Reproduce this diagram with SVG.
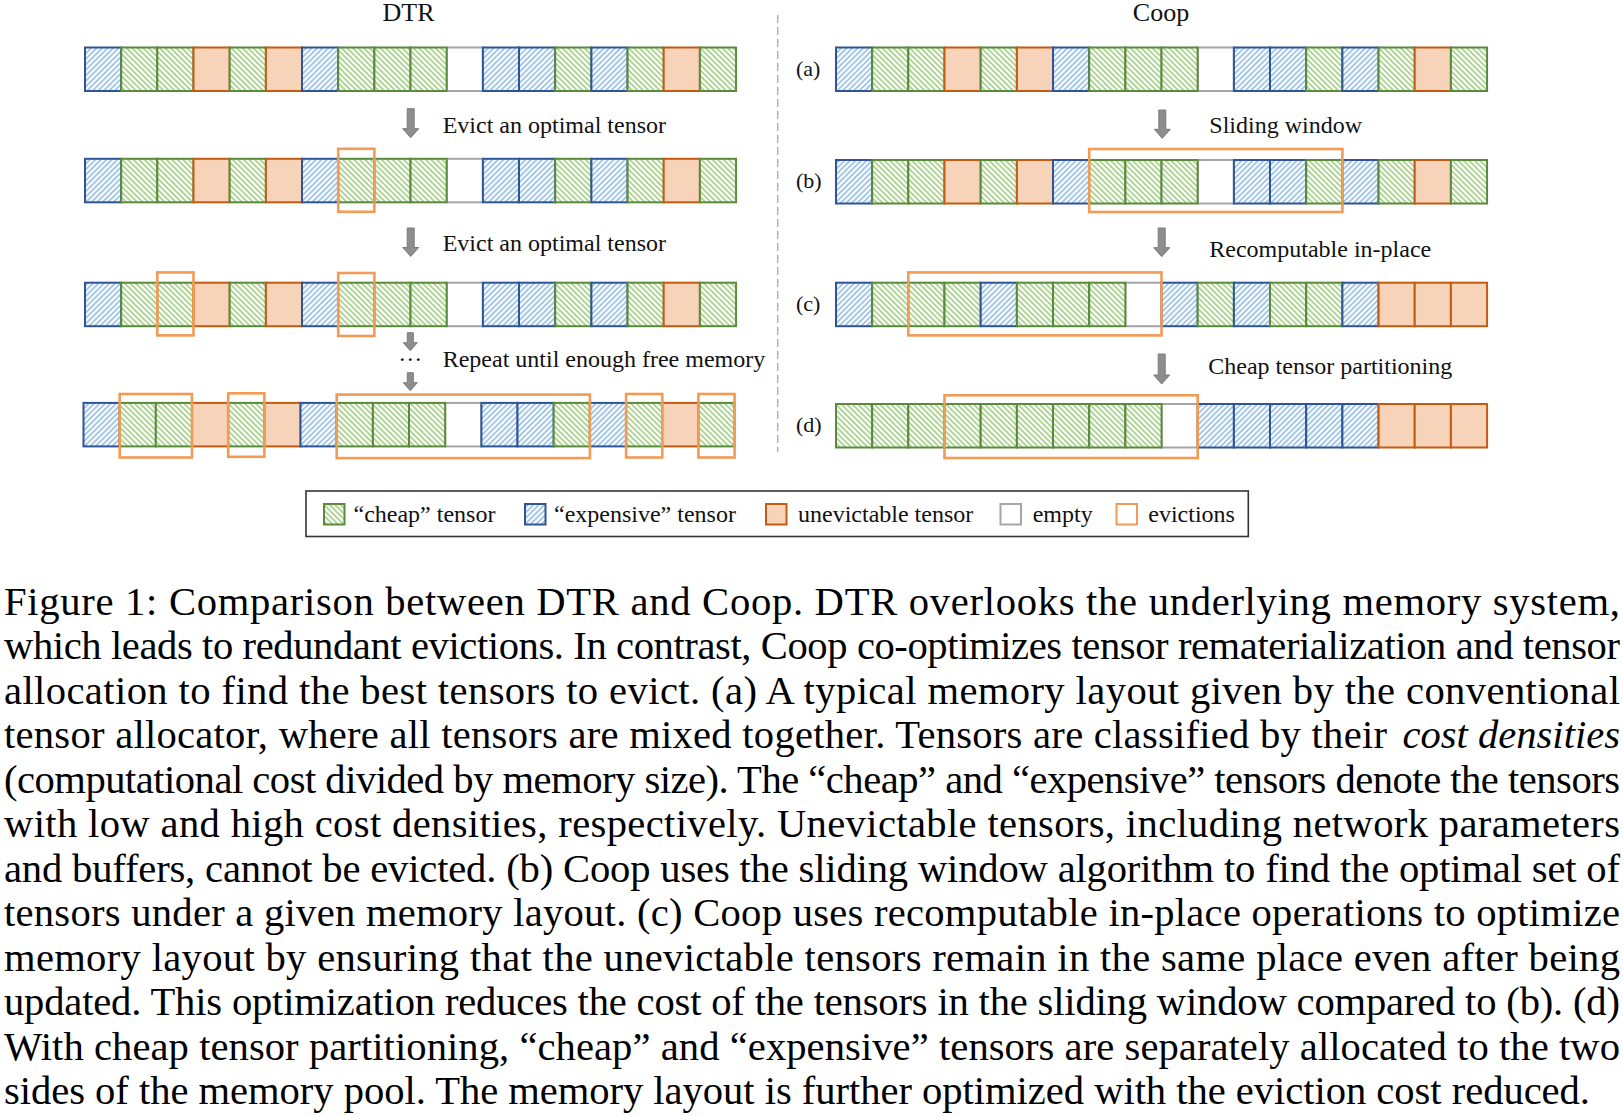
<svg xmlns="http://www.w3.org/2000/svg" width="1623" height="1116" viewBox="0 0 1623 1116">
<style>
.g{fill:url(#hg);stroke:#5b8a3c;stroke-width:2}
.b{fill:url(#hb);stroke:#2f5597;stroke-width:2}
.o{fill:#f7d3b9;stroke:#c55a11;stroke-width:2}
.e{fill:#fff;stroke:#a6a6a6;stroke-width:2}
.ev{fill:none;stroke:#f39a55;stroke-width:2.6}
.lbl{font-family:"Liberation Serif","Times New Roman",serif;font-size:24px;fill:#111}
.ttl{font-family:"Liberation Serif","Times New Roman",serif;font-size:26px;fill:#111;text-anchor:middle}
.tag{font-family:"Liberation Serif","Times New Roman",serif;font-size:22px;fill:#111}
.cap{font-family:"Liberation Serif","Times New Roman",serif;font-size:40.6px;fill:#000}
.arr{fill:#8e8e8e;stroke:#7b7b7b;stroke-width:1}
</style>
<defs>
<pattern id="hg" patternUnits="userSpaceOnUse" width="3.9" height="3.9" patternTransform="rotate(-45)">
<rect width="3.9" height="3.9" fill="#fff"/><rect width="1.8" height="3.9" fill="#a9d18e"/>
</pattern>
<pattern id="hb" patternUnits="userSpaceOnUse" width="3.9" height="3.9" patternTransform="rotate(45)">
<rect width="3.9" height="3.9" fill="#fff"/><rect width="1.8" height="3.9" fill="#9dc3e6"/>
</pattern>
</defs>
<rect width="1623" height="1116" fill="#fff"/>

<text class="ttl" x="408.5" y="20.5">DTR</text>
<text class="ttl" x="1161" y="21">Coop</text>
<line x1="777.7" y1="15" x2="777.7" y2="452" stroke="#b3b3b3" stroke-width="1.5" stroke-dasharray="8 4"/>

<g id="dtr-row1">
<rect class="e" x="446.7" y="47.5" width="36.17" height="43.5"/>
<rect class="b" x="85" y="47.5" width="36.17" height="43.5"/>
<rect class="g" x="121.2" y="47.5" width="36.17" height="43.5"/>
<rect class="g" x="157.3" y="47.5" width="36.17" height="43.5"/>
<rect class="o" x="193.5" y="47.5" width="36.17" height="43.5"/>
<rect class="g" x="229.7" y="47.5" width="36.17" height="43.5"/>
<rect class="o" x="265.9" y="47.5" width="36.17" height="43.5"/>
<rect class="b" x="302" y="47.5" width="36.17" height="43.5"/>
<rect class="g" x="338.2" y="47.5" width="36.17" height="43.5"/>
<rect class="g" x="374.4" y="47.5" width="36.17" height="43.5"/>
<rect class="g" x="410.5" y="47.5" width="36.17" height="43.5"/>
<rect class="b" x="482.9" y="47.5" width="36.17" height="43.5"/>
<rect class="b" x="519" y="47.5" width="36.17" height="43.5"/>
<rect class="g" x="555.2" y="47.5" width="36.17" height="43.5"/>
<rect class="b" x="591.4" y="47.5" width="36.17" height="43.5"/>
<rect class="g" x="627.6" y="47.5" width="36.17" height="43.5"/>
<rect class="o" x="663.7" y="47.5" width="36.17" height="43.5"/>
<rect class="g" x="699.9" y="47.5" width="36.17" height="43.5"/>
</g>

<g id="dtr-row2">
<rect class="e" x="446.7" y="158.8" width="36.17" height="43.5"/>
<rect class="b" x="85" y="158.8" width="36.17" height="43.5"/>
<rect class="g" x="121.2" y="158.8" width="36.17" height="43.5"/>
<rect class="g" x="157.3" y="158.8" width="36.17" height="43.5"/>
<rect class="o" x="193.5" y="158.8" width="36.17" height="43.5"/>
<rect class="g" x="229.7" y="158.8" width="36.17" height="43.5"/>
<rect class="o" x="265.9" y="158.8" width="36.17" height="43.5"/>
<rect class="b" x="302" y="158.8" width="36.17" height="43.5"/>
<rect class="g" x="338.2" y="158.8" width="36.17" height="43.5"/>
<rect class="g" x="374.4" y="158.8" width="36.17" height="43.5"/>
<rect class="g" x="410.5" y="158.8" width="36.17" height="43.5"/>
<rect class="b" x="482.9" y="158.8" width="36.17" height="43.5"/>
<rect class="b" x="519" y="158.8" width="36.17" height="43.5"/>
<rect class="g" x="555.2" y="158.8" width="36.17" height="43.5"/>
<rect class="b" x="591.4" y="158.8" width="36.17" height="43.5"/>
<rect class="g" x="627.6" y="158.8" width="36.17" height="43.5"/>
<rect class="o" x="663.7" y="158.8" width="36.17" height="43.5"/>
<rect class="g" x="699.9" y="158.8" width="36.17" height="43.5"/>
<rect class="ev" x="338.2" y="148.8" width="36.17" height="63"/>
</g>

<g id="dtr-row3">
<rect class="e" x="446.7" y="282.7" width="36.17" height="43.5"/>
<rect class="b" x="85" y="282.7" width="36.17" height="43.5"/>
<rect class="g" x="121.2" y="282.7" width="36.17" height="43.5"/>
<rect class="g" x="157.3" y="282.7" width="36.17" height="43.5"/>
<rect class="o" x="193.5" y="282.7" width="36.17" height="43.5"/>
<rect class="g" x="229.7" y="282.7" width="36.17" height="43.5"/>
<rect class="o" x="265.9" y="282.7" width="36.17" height="43.5"/>
<rect class="b" x="302" y="282.7" width="36.17" height="43.5"/>
<rect class="g" x="338.2" y="282.7" width="36.17" height="43.5"/>
<rect class="g" x="374.4" y="282.7" width="36.17" height="43.5"/>
<rect class="g" x="410.5" y="282.7" width="36.17" height="43.5"/>
<rect class="b" x="482.9" y="282.7" width="36.17" height="43.5"/>
<rect class="b" x="519" y="282.7" width="36.17" height="43.5"/>
<rect class="g" x="555.2" y="282.7" width="36.17" height="43.5"/>
<rect class="b" x="591.4" y="282.7" width="36.17" height="43.5"/>
<rect class="g" x="627.6" y="282.7" width="36.17" height="43.5"/>
<rect class="o" x="663.7" y="282.7" width="36.17" height="43.5"/>
<rect class="g" x="699.9" y="282.7" width="36.17" height="43.5"/>
<rect class="ev" x="157.3" y="272.4" width="36.17" height="63"/>
<rect class="ev" x="338.2" y="273" width="36.17" height="63"/>
</g>

<g id="dtr-row4">
<rect class="e" x="445.2" y="402.9" width="36.17" height="43.5"/>
<rect class="b" x="83.5" y="402.9" width="36.17" height="43.5"/>
<rect class="g" x="119.7" y="402.9" width="36.17" height="43.5"/>
<rect class="g" x="155.8" y="402.9" width="36.17" height="43.5"/>
<rect class="o" x="192" y="402.9" width="36.17" height="43.5"/>
<rect class="g" x="228.2" y="402.9" width="36.17" height="43.5"/>
<rect class="o" x="264.4" y="402.9" width="36.17" height="43.5"/>
<rect class="b" x="300.5" y="402.9" width="36.17" height="43.5"/>
<rect class="g" x="336.7" y="402.9" width="36.17" height="43.5"/>
<rect class="g" x="372.9" y="402.9" width="36.17" height="43.5"/>
<rect class="g" x="409" y="402.9" width="36.17" height="43.5"/>
<rect class="b" x="481.4" y="402.9" width="36.17" height="43.5"/>
<rect class="b" x="517.5" y="402.9" width="36.17" height="43.5"/>
<rect class="g" x="553.7" y="402.9" width="36.17" height="43.5"/>
<rect class="b" x="589.9" y="402.9" width="36.17" height="43.5"/>
<rect class="g" x="626.1" y="402.9" width="36.17" height="43.5"/>
<rect class="o" x="662.2" y="402.9" width="36.17" height="43.5"/>
<rect class="g" x="698.4" y="402.9" width="36.17" height="43.5"/>
<rect class="ev" x="119.7" y="394" width="72.3" height="63.5"/>
<rect class="ev" x="228.2" y="393.3" width="36.17" height="63.5"/>
<rect class="ev" x="336.7" y="394.6" width="253.2" height="63.5"/>
<rect class="ev" x="626.1" y="394" width="36.17" height="63.5"/>
<rect class="ev" x="698.4" y="394" width="36.17" height="63.5"/>
</g>

<g id="coop-a">
<rect class="e" x="1197.7" y="47.5" width="36.17" height="43.5"/>
<rect class="b" x="836" y="47.5" width="36.17" height="43.5"/>
<rect class="g" x="872.2" y="47.5" width="36.17" height="43.5"/>
<rect class="g" x="908.3" y="47.5" width="36.17" height="43.5"/>
<rect class="o" x="944.5" y="47.5" width="36.17" height="43.5"/>
<rect class="g" x="980.7" y="47.5" width="36.17" height="43.5"/>
<rect class="o" x="1016.9" y="47.5" width="36.17" height="43.5"/>
<rect class="b" x="1053" y="47.5" width="36.17" height="43.5"/>
<rect class="g" x="1089.2" y="47.5" width="36.17" height="43.5"/>
<rect class="g" x="1125.4" y="47.5" width="36.17" height="43.5"/>
<rect class="g" x="1161.5" y="47.5" width="36.17" height="43.5"/>
<rect class="b" x="1233.9" y="47.5" width="36.17" height="43.5"/>
<rect class="b" x="1270" y="47.5" width="36.17" height="43.5"/>
<rect class="g" x="1306.2" y="47.5" width="36.17" height="43.5"/>
<rect class="b" x="1342.4" y="47.5" width="36.17" height="43.5"/>
<rect class="g" x="1378.6" y="47.5" width="36.17" height="43.5"/>
<rect class="o" x="1414.7" y="47.5" width="36.17" height="43.5"/>
<rect class="g" x="1450.9" y="47.5" width="36.17" height="43.5"/>
<text class="tag" x="796" y="75.5">(a)</text>
</g>

<g id="coop-b">
<rect class="e" x="1197.7" y="160" width="36.17" height="43.5"/>
<rect class="b" x="836" y="160" width="36.17" height="43.5"/>
<rect class="g" x="872.2" y="160" width="36.17" height="43.5"/>
<rect class="g" x="908.3" y="160" width="36.17" height="43.5"/>
<rect class="o" x="944.5" y="160" width="36.17" height="43.5"/>
<rect class="g" x="980.7" y="160" width="36.17" height="43.5"/>
<rect class="o" x="1016.9" y="160" width="36.17" height="43.5"/>
<rect class="b" x="1053" y="160" width="36.17" height="43.5"/>
<rect class="g" x="1089.2" y="160" width="36.17" height="43.5"/>
<rect class="g" x="1125.4" y="160" width="36.17" height="43.5"/>
<rect class="g" x="1161.5" y="160" width="36.17" height="43.5"/>
<rect class="b" x="1233.9" y="160" width="36.17" height="43.5"/>
<rect class="b" x="1270" y="160" width="36.17" height="43.5"/>
<rect class="g" x="1306.2" y="160" width="36.17" height="43.5"/>
<rect class="b" x="1342.4" y="160" width="36.17" height="43.5"/>
<rect class="g" x="1378.6" y="160" width="36.17" height="43.5"/>
<rect class="o" x="1414.7" y="160" width="36.17" height="43.5"/>
<rect class="g" x="1450.9" y="160" width="36.17" height="43.5"/>
<rect class="ev" x="1089.2" y="149" width="253.2" height="63"/>
<text class="tag" x="796" y="188">(b)</text>
</g>

<g id="coop-c">
<rect class="e" x="1125.4" y="282.7" width="36.17" height="43.5"/>
<rect class="b" x="836" y="282.7" width="36.17" height="43.5"/>
<rect class="g" x="872.2" y="282.7" width="36.17" height="43.5"/>
<rect class="g" x="908.3" y="282.7" width="36.17" height="43.5"/>
<rect class="g" x="944.5" y="282.7" width="36.17" height="43.5"/>
<rect class="b" x="980.7" y="282.7" width="36.17" height="43.5"/>
<rect class="g" x="1016.9" y="282.7" width="36.17" height="43.5"/>
<rect class="g" x="1053" y="282.7" width="36.17" height="43.5"/>
<rect class="g" x="1089.2" y="282.7" width="36.17" height="43.5"/>
<rect class="b" x="1161.5" y="282.7" width="36.17" height="43.5"/>
<rect class="g" x="1197.7" y="282.7" width="36.17" height="43.5"/>
<rect class="b" x="1233.9" y="282.7" width="36.17" height="43.5"/>
<rect class="g" x="1270" y="282.7" width="36.17" height="43.5"/>
<rect class="g" x="1306.2" y="282.7" width="36.17" height="43.5"/>
<rect class="b" x="1342.4" y="282.7" width="36.17" height="43.5"/>
<rect class="o" x="1378.6" y="282.7" width="36.17" height="43.5"/>
<rect class="o" x="1414.7" y="282.7" width="36.17" height="43.5"/>
<rect class="o" x="1450.9" y="282.7" width="36.17" height="43.5"/>
<rect class="ev" x="908.3" y="272.4" width="253.2" height="63"/>
<text class="tag" x="796" y="310.5">(c)</text>
</g>

<g id="coop-d">
<rect class="e" x="1161.5" y="404" width="36.17" height="43.5"/>
<rect class="g" x="836" y="404" width="36.17" height="43.5"/>
<rect class="g" x="872.2" y="404" width="36.17" height="43.5"/>
<rect class="g" x="908.3" y="404" width="36.17" height="43.5"/>
<rect class="g" x="944.5" y="404" width="36.17" height="43.5"/>
<rect class="g" x="980.7" y="404" width="36.17" height="43.5"/>
<rect class="g" x="1016.9" y="404" width="36.17" height="43.5"/>
<rect class="g" x="1053" y="404" width="36.17" height="43.5"/>
<rect class="g" x="1089.2" y="404" width="36.17" height="43.5"/>
<rect class="g" x="1125.4" y="404" width="36.17" height="43.5"/>
<rect class="b" x="1197.7" y="404" width="36.17" height="43.5"/>
<rect class="b" x="1233.9" y="404" width="36.17" height="43.5"/>
<rect class="b" x="1270" y="404" width="36.17" height="43.5"/>
<rect class="b" x="1306.2" y="404" width="36.17" height="43.5"/>
<rect class="b" x="1342.4" y="404" width="36.17" height="43.5"/>
<rect class="o" x="1378.6" y="404" width="36.17" height="43.5"/>
<rect class="o" x="1414.7" y="404" width="36.17" height="43.5"/>
<rect class="o" x="1450.9" y="404" width="36.17" height="43.5"/>
<rect class="ev" x="944.5" y="395.3" width="253.2" height="62.7"/>
<text class="tag" x="796" y="432">(d)</text>
</g>

<g id="connectors">
<path class="arr" d="M407.2,108.7 H414.2 V128.7 H418.7 L410.7,137.7 L402.7,128.7 H407.2 Z"/>
<path class="arr" d="M407.2,228 H414.2 V247.5 H418.7 L410.7,256.5 L402.7,247.5 H407.2 Z"/>
<path class="arr" d="M407.3,332.7 H413.3 V342.7 H417.3 L410.3,350.7 L403.3,342.7 H407.3 Z"/>
<path class="arr" d="M407.3,372.7 H413.3 V382.7 H417.3 L410.3,390.7 L403.3,382.7 H407.3 Z"/>
<path class="arr" d="M1158.8,110 H1165.8 V129.3 H1170.3 L1162.3,138.3 L1154.3,129.3 H1158.8 Z"/>
<path class="arr" d="M1158.2,228 H1165.2 V247.7 H1169.7 L1161.7,256.7 L1153.7,247.7 H1158.2 Z"/>
<path class="arr" d="M1158.2,354 H1165.2 V375 H1169.7 L1161.7,384 L1153.7,375 H1158.2 Z"/>
</g>

<g id="step-labels">
<text class="lbl" x="442.7" y="133">Evict an optimal tensor</text>
<text class="lbl" x="442.7" y="251">Evict an optimal tensor</text>
<text class="lbl" x="410.3" y="366.5" text-anchor="middle">···</text>
<text class="lbl" x="442.7" y="366.7">Repeat until enough free memory</text>
<text class="lbl" x="1209.3" y="132.6">Sliding window</text>
<text class="lbl" x="1209.3" y="256.6">Recomputable in-place</text>
<text class="lbl" x="1208.3" y="374">Cheap tensor partitioning</text>
</g>

<g id="legend">
<rect x="306" y="491" width="942.3" height="45.5" fill="#fff" stroke="#333" stroke-width="1.6"/>
<rect class="g" x="324" y="504" width="20.5" height="20.5"/>
<text class="lbl" x="353.5" y="522">“cheap” tensor</text>
<rect class="b" x="525" y="504" width="20.5" height="20.5"/>
<text class="lbl" x="554" y="522">“expensive” tensor</text>
<rect class="o" x="766" y="504" width="20.5" height="20.5"/>
<text class="lbl" x="798" y="522">unevictable tensor</text>
<rect class="e" x="1000.5" y="504" width="20.5" height="20.5"/>
<text class="lbl" x="1032.7" y="522">empty</text>
<rect x="1116.5" y="504" width="20.5" height="20.5" fill="#fff" stroke="#f39a55" stroke-width="2"/>
<text class="lbl" x="1148.3" y="522">evictions</text>
</g>

<g id="caption">
<text class="cap" x="4" y="614.5" textLength="1616" lengthAdjust="spacing">Figure 1: Comparison between DTR and Coop. DTR overlooks the underlying memory system,</text>
<text class="cap" x="4" y="659" textLength="1616" lengthAdjust="spacing">which leads to redundant evictions. In contrast, Coop co-optimizes tensor rematerialization and tensor</text>
<text class="cap" x="4" y="703.5" textLength="1616" lengthAdjust="spacing">allocation to find the best tensors to evict. (a) A typical memory layout given by the conventional</text>
<text class="cap" x="4" y="748" textLength="1383" lengthAdjust="spacing">tensor allocator, where all tensors are mixed together. Tensors are classified by their</text>
<text class="cap" x="1620" y="748" text-anchor="end" font-style="italic">cost densities</text>
<text class="cap" x="4" y="792.5" textLength="1616" lengthAdjust="spacing">(computational cost divided by memory size). The “cheap” and “expensive” tensors denote the tensors</text>
<text class="cap" x="4" y="837" textLength="1616" lengthAdjust="spacing">with low and high cost densities, respectively. Unevictable tensors, including network parameters</text>
<text class="cap" x="4" y="881.5" textLength="1616" lengthAdjust="spacing">and buffers, cannot be evicted. (b) Coop uses the sliding window algorithm to find the optimal set of</text>
<text class="cap" x="4" y="926" textLength="1616" lengthAdjust="spacing">tensors under a given memory layout. (c) Coop uses recomputable in-place operations to optimize</text>
<text class="cap" x="4" y="970.5" textLength="1616" lengthAdjust="spacing">memory layout by ensuring that the unevictable tensors remain in the same place even after being</text>
<text class="cap" x="4" y="1015" textLength="1616" lengthAdjust="spacing">updated. This optimization reduces the cost of the tensors in the sliding window compared to (b). (d)</text>
<text class="cap" x="4" y="1059.5" textLength="1616" lengthAdjust="spacing">With cheap tensor partitioning, “cheap” and “expensive” tensors are separately allocated to the two</text>
<text class="cap" x="4" y="1104" textLength="1586" lengthAdjust="spacing">sides of the memory pool. The memory layout is further optimized with the eviction cost reduced.</text>
</g>
</svg>
